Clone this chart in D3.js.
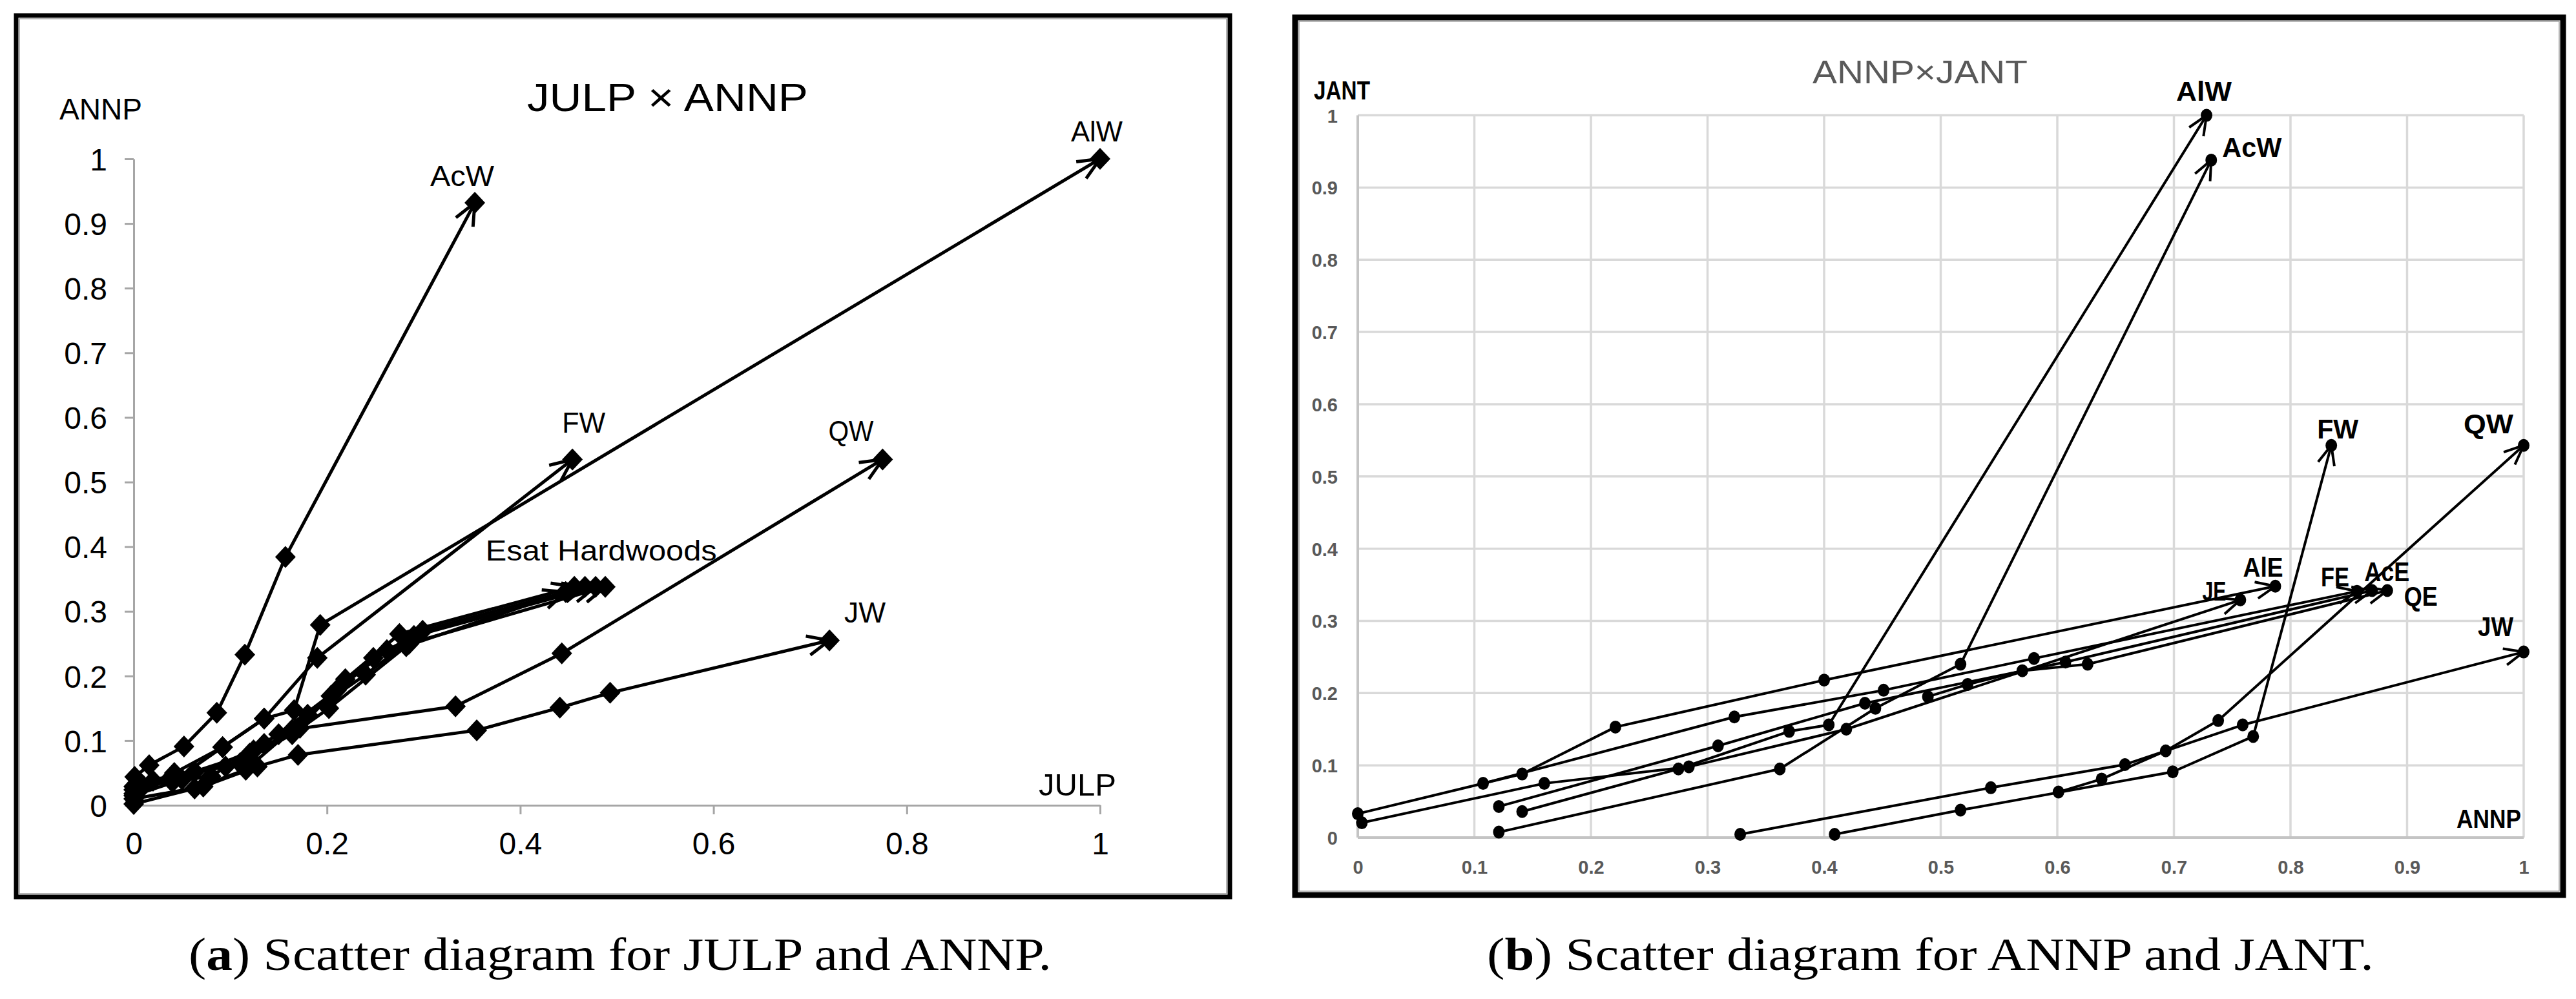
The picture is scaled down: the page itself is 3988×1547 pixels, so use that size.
<!DOCTYPE html>
<html>
<head>
<meta charset="utf-8">
<script src="https://cdn.jsdelivr.net/npm/d3@7"></script>
<style>
  body { margin: 0; background: #fff; }
  svg { display: block; }
</style>
</head>
<body>
<script>
// ---- data, panel (a): JULP (x) vs ANNP (y) ----
const namesA = ["AcW", "AlW", "FW", "QW", "JW", "AlE", "AcE", "FE", "QE", "JE"];
const aAcW = [[0.001,0.044],[0.016,0.062],[0.052,0.091],[0.086,0.143],[0.115,0.233],[0.157,0.384],[0.353,0.932]];
const aAlW = [[0,0.018],[0.042,0.050],[0.092,0.090],[0.135,0.134],[0.166,0.147],[0.193,0.279],[1.0,1.0]];
const aFW  = [[0,0.029],[0.040,0.036],[0.092,0.090],[0.135,0.134],[0.190,0.228],[0.454,0.535]];
const aQW  = [[0,0.002],[0.063,0.026],[0.116,0.055],[0.164,0.117],[0.333,0.153],[0.443,0.235],[0.775,0.535]];
const aJW  = [[0,0.010],[0.072,0.029],[0.128,0.060],[0.170,0.078],[0.355,0.116],[0.441,0.151],[0.493,0.174],[0.72,0.255]];
const aAlE = [[0,0.024],[0.040,0.045],[0.110,0.065],[0.164,0.110],[0.202,0.150],[0.282,0.246],[0.447,0.330]];
const aAcE = [[0.004,0.035],[0.063,0.052],[0.120,0.080],[0.172,0.120],[0.219,0.195],[0.275,0.265],[0.456,0.338]];
const aFE  = [[0,0.015],[0.050,0.040],[0.124,0.085],[0.180,0.140],[0.240,0.202],[0.299,0.270],[0.467,0.338]];
const aQE  = [[0.010,0.030],[0.080,0.045],[0.135,0.095],[0.204,0.169],[0.248,0.228],[0.290,0.262],[0.478,0.338]];
const aJE  = [[0.020,0.038],[0.095,0.060],[0.150,0.110],[0.210,0.178],[0.262,0.240],[0.285,0.250],[0.488,0.338]];
const xTicksA = [0, 0.2, 0.4, 0.6, 0.8, 1];
const xTickLabelsA = ["0", "0.2", "0.4", "0.6", "0.8", "1"];
const yTicksA = [0, 0.1, 0.2, 0.3, 0.4, 0.5, 0.6, 0.7, 0.8, 0.9, 1];
const yTickLabelsA = ["0", "0.1", "0.2", "0.3", "0.4", "0.5", "0.6", "0.7", "0.8", "0.9", "1"];

// ---- data, panel (b): ANNP (x) vs JANT (y) ----
const namesB = ["AlW", "AcW", "FW", "QW", "JW", "AlE", "AcE", "FE", "QE", "JE"];
const bAlW = [[0.141,0.036],[0.275,0.095],[0.370,0.147],[0.404,0.156],[0.728,1.0]];
const bAcW = [[0.121,0.0075],[0.362,0.095],[0.444,0.179],[0.517,0.240],[0.732,0.938]];
const bFW  = [[0.409,0.0045],[0.517,0.038],[0.699,0.091],[0.768,0.140],[0.835,0.543]];
const bQW  = [[0.601,0.063],[0.638,0.081],[0.693,0.120],[0.738,0.162],[1.0,0.543]];
const bJW  = [[0.328,0.0045],[0.543,0.069],[0.658,0.101],[0.759,0.156],[1.0,0.257]];
const bAlE = [[0,0.033],[0.141,0.088],[0.221,0.153],[0.400,0.218],[0.787,0.348]];
const bAcE = [[0.121,0.043],[0.309,0.127],[0.435,0.186],[0.607,0.243],[0.870,0.342]];
const bFE  = [[0.1075,0.075],[0.323,0.167],[0.451,0.204],[0.580,0.248],[0.857,0.341]];
const bQE  = [[0.489,0.195],[0.523,0.212],[0.570,0.231],[0.626,0.240],[0.883,0.342]];
const bJE  = [[0.0035,0.0205],[0.160,0.075],[0.284,0.098],[0.419,0.150],[0.757,0.329]];
const ticksB = [0, 0.1, 0.2, 0.3, 0.4, 0.5, 0.6, 0.7, 0.8, 0.9, 1];
const tickLabelsB = ["0", "0.1", "0.2", "0.3", "0.4", "0.5", "0.6", "0.7", "0.8", "0.9", "1"];

const seriesA = [aAcW, aAlW, aFW, aQW, aJW, aAlE, aAcE, aFE, aQE, aJE];
const seriesB = [bAlW, bAcW, bFW, bQW, bJW, bAlE, bAcE, bFE, bQE, bJE];

// label placement (px offset from series end, width) - layout only
const labelPosA = {
  AcW: [-69, -26, 99], AlW: [-45, -27, 80], FW: [-16, -41, 67],
  QW: [-84, -28, 70], JW: [23, -28, 64]
};
const labelPosB = {
  AlW: [-47, -23, 86], AcW: [17, -5, 92], FW: [-22, -11, 64], QW: [-93, -19, 77],
  JW: [-71, -25, 55], AlE: [-50, -15, 62], JE: [-59, 1, 37], FE: [-56, -8, 44],
  AcE: [-12, -15, 70], QE: [26, 23, 52]
};

const W = 3988, H = 1547;
const sansA = "'Liberation Sans', Arial, sans-serif";
const sansB = "'Liberation Sans', Arial, sans-serif";

const svg = d3.select("body").append("svg")
  .attr("width", W).attr("height", H)
  .attr("viewBox", `0 0 ${W} ${H}`);

svg.append("rect").attr("width", W).attr("height", H).attr("fill", "#fff");

const defs = svg.append("defs");
defs.append("marker")
  .attr("id", "arrA").attr("markerUnits", "userSpaceOnUse")
  .attr("viewBox", "-44 -24 52 48").attr("markerWidth", 52).attr("markerHeight", 48)
  .attr("refX", 0).attr("refY", 0).attr("orient", "auto")
  .append("path").attr("d", "M-34,-15L0,0L-34,15")
  .attr("fill", "none").attr("stroke", "#000").attr("stroke-width", 5);
defs.append("marker")
  .attr("id", "arrB").attr("markerUnits", "userSpaceOnUse")
  .attr("viewBox", "-40 -22 48 44").attr("markerWidth", 48).attr("markerHeight", 44)
  .attr("refX", 0).attr("refY", 0).attr("orient", "auto")
  .append("path").attr("d", "M-30,-13L0,0L-30,13")
  .attr("fill", "none").attr("stroke", "#000").attr("stroke-width", 4);

// ================= panel (a) =================
const xA = d3.scaleLinear().domain([0, 1]).range([207, 1703]);
const yA = d3.scaleLinear().domain([0, 1]).range([1247, 246]);
const gA = svg.append("g");

// frame
gA.append("rect").attr("x", 25).attr("y", 24).attr("width", 1879).attr("height", 1365)
  .attr("fill", "none").attr("stroke", "#000").attr("stroke-width", 7);
gA.append("rect").attr("x", 30).attr("y", 29).attr("width", 1869).attr("height", 1355)
  .attr("fill", "none").attr("stroke", "#9a9a9a").attr("stroke-width", 1.5);

// axes
const axYA = gA.append("g").attr("transform", "translate(207,0)")
  .call(d3.axisLeft(yA).tickValues(yTicksA).tickSize(14).tickSizeOuter(0).tickPadding(27)
    .tickFormat((d, i) => yTickLabelsA[i]));
const axXA = gA.append("g").attr("transform", "translate(0,1247)")
  .call(d3.axisBottom(xA).tickValues(xTicksA).tickSize(14).tickSizeOuter(0)
    .tickFormat((d, i) => xTickLabelsA[i]));
[axYA, axXA].forEach(ax => {
  ax.select(".domain").attr("stroke", "#a6a6a6").attr("stroke-width", 3);
  ax.selectAll(".tick line").attr("stroke", "#a6a6a6").attr("stroke-width", 3);
  ax.selectAll(".tick text").attr("fill", "#000").style("font-family", sansA).style("font-size", "48px");
});
axYA.selectAll(".tick text").attr("dy", "0.36em");
axXA.selectAll(".tick text").attr("y", 76).attr("dy", null);

// titles
gA.append("text").attr("x", 816).attr("y", 172).attr("textLength", 435)
  .attr("lengthAdjust", "spacingAndGlyphs")
  .style("font-family", sansA).style("font-size", "62px").text("JULP  ×  ANNP");
gA.append("text").attr("x", 92).attr("y", 185).attr("textLength", 128)
  .attr("lengthAdjust", "spacingAndGlyphs")
  .style("font-family", sansA).style("font-size", "46px").text("ANNP");
gA.append("text").attr("x", 1608).attr("y", 1232).attr("textLength", 120)
  .attr("lengthAdjust", "spacingAndGlyphs")
  .style("font-family", sansA).style("font-size", "49px").text("JULP");

const lineA = d3.line().x(d => xA(d[0])).y(d => yA(d[1]));
const diamond = "M0,-17L16,0L0,17L-16,0Z";

gA.selectAll("path.series").data(seriesA).enter().append("path")
  .attr("class", "series").attr("d", lineA)
  .attr("fill", "none").attr("stroke", "#000").attr("stroke-width", 5)
  .attr("stroke-linejoin", "round").attr("marker-end", "url(#arrA)");

seriesA.forEach(s => {
  gA.selectAll(null).data(s).enter().append("path")
    .attr("d", diamond)
    .attr("transform", d => `translate(${xA(d[0])},${yA(d[1])})`)
    .attr("fill", "#000");
});

namesA.forEach((n, i) => {
  const p = labelPosA[n];
  if (!p) return;
  const e = seriesA[i][seriesA[i].length - 1];
  gA.append("text").attr("x", xA(e[0]) + p[0]).attr("y", yA(e[1]) + p[1])
    .attr("textLength", p[2]).attr("lengthAdjust", "spacingAndGlyphs")
    .style("font-family", sansA).style("font-size", "44px").text(n);
});
// group label for the five eastern series
const eAlE = aAlE[aAlE.length - 1];
gA.append("text").attr("x", xA(eAlE[0]) - 124).attr("y", yA(eAlE[1]) - 49)
  .attr("textLength", 358).attr("lengthAdjust", "spacingAndGlyphs")
  .style("font-family", sansA).style("font-size", "44px").text("Esat Hardwoods");

// ================= panel (b) =================
const xB = d3.scaleLinear().domain([0, 1]).range([2102, 3907]);
const yB = d3.scaleLinear().domain([0, 1]).range([1297, 178.6]);
const gB = svg.append("g");

gB.append("rect").attr("x", 2005).attr("y", 27).attr("width", 1963).attr("height", 1359)
  .attr("fill", "none").attr("stroke", "#000").attr("stroke-width", 9);
gB.append("rect").attr("x", 2011).attr("y", 33).attr("width", 1951).attr("height", 1347)
  .attr("fill", "none").attr("stroke", "#a0a0a0").attr("stroke-width", 1.5);

// gridlines
gB.selectAll("line.vg").data(ticksB.slice(1)).enter().append("line")
  .attr("x1", d => xB(d)).attr("x2", d => xB(d))
  .attr("y1", yB(0)).attr("y2", yB(1))
  .attr("stroke", "#d9d9d9").attr("stroke-width", 3.5);
gB.selectAll("line.hg").data(ticksB.slice(1)).enter().append("line")
  .attr("x1", xB(0)).attr("x2", xB(1))
  .attr("y1", d => yB(d)).attr("y2", d => yB(d))
  .attr("stroke", "#d9d9d9").attr("stroke-width", 3.5);
gB.append("line").attr("x1", xB(0)).attr("x2", xB(0)).attr("y1", yB(0)).attr("y2", yB(1))
  .attr("stroke", "#c4c4c4").attr("stroke-width", 4);
gB.append("line").attr("x1", xB(0)).attr("x2", xB(1)).attr("y1", yB(0)).attr("y2", yB(0))
  .attr("stroke", "#c4c4c4").attr("stroke-width", 4);

const axYB = gB.append("g").attr("transform", `translate(${xB(0)},0)`)
  .call(d3.axisLeft(yB).tickValues(ticksB).tickSize(0).tickPadding(31)
    .tickFormat((d, i) => tickLabelsB[i]));
const axXB = gB.append("g").attr("transform", `translate(0,${yB(0)})`)
  .call(d3.axisBottom(xB).tickValues(ticksB).tickSize(0)
    .tickFormat((d, i) => tickLabelsB[i]));
[axYB, axXB].forEach(ax => {
  ax.select(".domain").remove();
  ax.selectAll(".tick text").attr("fill", "#595959")
    .style("font-family", sansB).style("font-size", "29px").style("font-weight", "bold");
});
axYB.selectAll(".tick text").attr("dy", "0.36em");
axXB.selectAll(".tick text").attr("y", 56).attr("dy", null);

gB.append("text").attr("x", 2806).attr("y", 129).attr("textLength", 333)
  .attr("lengthAdjust", "spacingAndGlyphs").attr("fill", "#595959")
  .style("font-family", sansB).style("font-size", "50px").text("ANNP×JANT");
gB.append("text").attr("x", 2034).attr("y", 154).attr("textLength", 87)
  .attr("lengthAdjust", "spacingAndGlyphs").style("font-weight", "bold")
  .style("font-family", sansB).style("font-size", "40px").text("JANT");
gB.append("text").attr("x", 3803).attr("y", 1282).attr("textLength", 100)
  .attr("lengthAdjust", "spacingAndGlyphs").style("font-weight", "bold")
  .style("font-family", sansB).style("font-size", "40px").text("ANNP");

const lineB = d3.line().x(d => xB(d[0])).y(d => yB(d[1]));
gB.selectAll("path.series").data(seriesB).enter().append("path")
  .attr("class", "series").attr("d", lineB)
  .attr("fill", "none").attr("stroke", "#000").attr("stroke-width", 4)
  .attr("stroke-linejoin", "round").attr("marker-end", "url(#arrB)");

seriesB.forEach(s => {
  gB.selectAll(null).data(s).enter().append("ellipse")
    .attr("cx", d => xB(d[0])).attr("cy", d => yB(d[1]))
    .attr("rx", 9).attr("ry", 10).attr("fill", "#000");
});

namesB.forEach((n, i) => {
  const p = labelPosB[n];
  const e = seriesB[i][seriesB[i].length - 1];
  gB.append("text").attr("x", xB(e[0]) + p[0]).attr("y", yB(e[1]) + p[1])
    .attr("textLength", p[2]).attr("lengthAdjust", "spacingAndGlyphs")
    .style("font-weight", "bold")
    .style("font-family", sansB).style("font-size", "42px").text(n);
});

// ================= captions =================
const capFont = "'Liberation Serif', 'DejaVu Serif', serif";
function caption(x, len, letter, rest) {
  const t = svg.append("text").attr("x", x).attr("y", 1502)
    .attr("textLength", len).attr("lengthAdjust", "spacingAndGlyphs")
    .style("font-family", capFont).style("font-size", "72px");
  t.append("tspan").text("(");
  t.append("tspan").style("font-weight", "bold").text(letter);
  t.append("tspan").text(") " + rest);
}
caption(292, 1336, "a", "Scatter diagram for JULP and ANNP.");
caption(2302, 1373, "b", "Scatter diagram for ANNP and JANT.");
</script>
</body>
</html>
